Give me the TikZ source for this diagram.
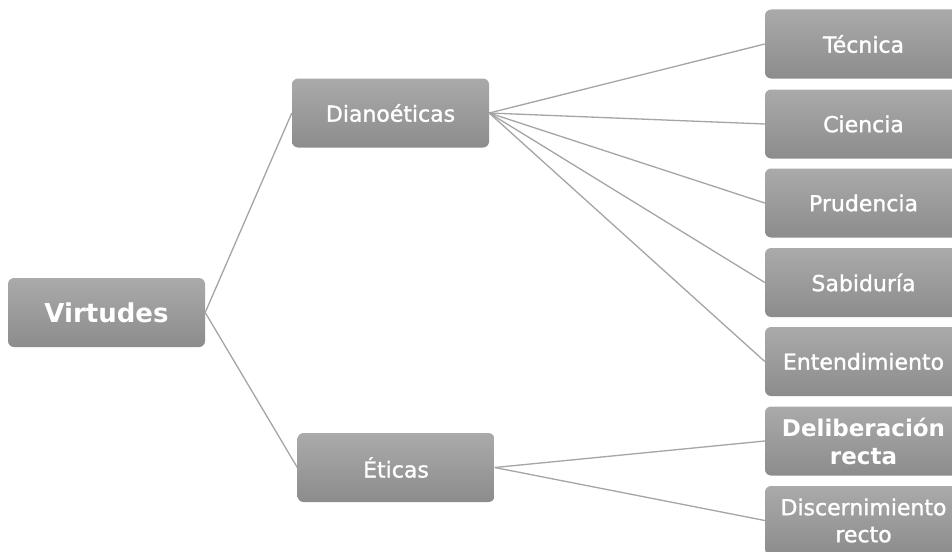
\documentclass[tikz,border=0pt]{standalone}
\usepackage{fontspec}
\setmainfont{DejaVu Sans}
\newfontface\semib{DejaVu Sans}[FakeBold=1.3]
\definecolor{boxtop}{RGB}{170,170,170}
\definecolor{boxbot}{RGB}{140,140,140}
\definecolor{linkc}{RGB}{165,165,165}
\tikzset{
  box/.style={rectangle, rounded corners=6pt, minimum width=197pt, minimum height=69pt,
    inner sep=1pt, top color=boxtop, bottom color=boxbot, draw=none,
    text=white, align=center, font=\fontsize{22}{27}\selectfont\semib},
  link/.style={draw=linkc, line width=1.3pt}
}
\begin{document}
\begin{tikzpicture}[x=1pt,y=-1pt]
\useasboundingbox (0,0) rectangle (952,551);
\clip (0,0) rectangle (952,551);
\fill[white] (0,0) rectangle (952,551);
\node[box, font=\fontsize{26}{30}\selectfont\bfseries] (vir) at (106.5,312.5) {Virtudes};
\node[box] (dia) at (390.5,113) {Dianoéticas};
\node[box] (eti) at (396,467.5) {Éticas};
\node[box] (tec) at (863.5,44) {Técnica};
\node[box] (cie) at (863.5,124) {Ciencia};
\node[box] (pru) at (863.5,203) {Prudencia};
\node[box] (sab) at (863.5,282.5) {Sabiduría};
\node[box] (ent) at (863.5,361.5) {Entendimiento};
\node[box, font=\fontsize{23}{28}\selectfont\bfseries] (del) at (863.5,441) {Deliberación\\recta};
\node[box] (dis) at (863.5,520.5) {Discernimiento\\recto};
\draw[link] (vir.east) -- (dia.west);
\draw[link] (vir.east) -- (eti.west);
\foreach \t in {tec,cie,pru,sab,ent} \draw[link] (dia.east) -- (\t.west);
\foreach \t in {del,dis} \draw[link] (eti.east) -- (\t.west);
\end{tikzpicture}
\end{document}
